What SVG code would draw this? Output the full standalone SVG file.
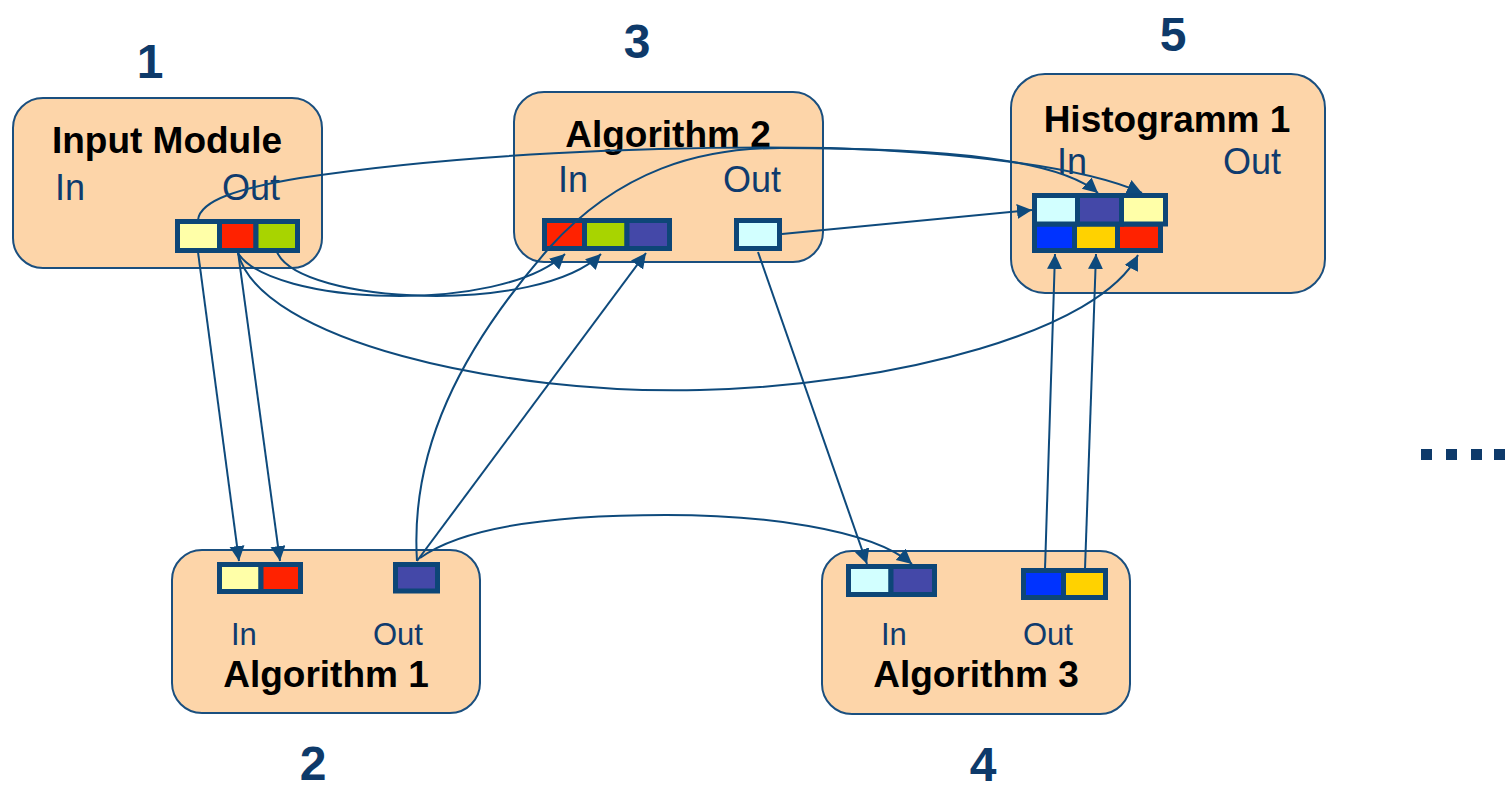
<svg xmlns="http://www.w3.org/2000/svg" width="1511" height="791" viewBox="0 0 1511 791">
  <style>
    .box { fill: #FDD5A9; stroke: #1A4F7F; stroke-width: 2; }
    .title { font-family: "Liberation Sans", Arial, sans-serif; font-weight: bold; font-size: 37px; fill: #000; text-anchor: middle; }
    .io { font-family: "Liberation Sans", Arial, sans-serif; font-size: 36px; fill: #0F3B6E; }
    .io-s { font-family: "Liberation Sans", Arial, sans-serif; font-size: 31px; fill: #0F3B6E; }
    .num { font-family: "Liberation Sans", Arial, sans-serif; font-weight: bold; font-size: 48px; fill: #0E3A6A; text-anchor: middle; }
    .port { stroke: #0D4677; stroke-width: 5; }
    .yel { fill: #FFFFA8; }
    .red { fill: #FF2200; }
    .grn { fill: #A8D400; }
    .pur { fill: #4448A8; }
    .cyn { fill: #D2FFFF; }
    .blu { fill: #0033FF; }
    .gld { fill: #FFD200; }
    .link { fill: none; stroke: #0E4A7C; stroke-width: 2; marker-end: url(#arrow); }
    .dot { fill: #0E3A6A; }
  </style>
  <defs>
    <marker id="arrow" markerUnits="userSpaceOnUse" markerWidth="16" markerHeight="16" refX="15" refY="7.5" orient="auto">
      <path d="M0,0 L15,7.5 L0,15 z" fill="#0E4A7C"/>
    </marker>
  </defs>

  <rect width="1511" height="791" fill="#FFFFFF"/>

  <!-- Node 1: Input Module -->
  <g id="input-module">
    <text class="num" x="150" y="78">1</text>
    <rect class="box" x="13" y="98" width="309" height="170" rx="30"/>
    <text class="title" x="167" y="153">Input Module</text>
    <text class="io" x="55" y="200">In</text>
    <text class="io" x="222" y="200">Out</text>
    <rect class="port yel" x="177.5" y="221.5" width="42" height="29"/>
    <rect class="port red" x="219.5" y="221.5" width="36.5" height="29"/>
    <rect class="port grn" x="256" y="221.5" width="41.5" height="29"/>
  </g>

  <!-- Node 3: Algorithm 2 -->
  <g id="algorithm-2">
    <text class="num" x="637" y="58">3</text>
    <rect class="box" x="514" y="92" width="309" height="170" rx="30"/>
    <text class="title" x="668" y="147">Algorithm 2</text>
    <text class="io" x="558" y="192">In</text>
    <text class="io" x="723" y="192">Out</text>
    <rect class="port red" x="544.5" y="220.5" width="40" height="28"/>
    <rect class="port grn" x="584.5" y="220.5" width="42.5" height="28"/>
    <rect class="port pur" x="627" y="220.5" width="42.5" height="28"/>
    <rect class="port cyn" x="736.5" y="220.5" width="43" height="28"/>
  </g>

  <!-- Node 5: Histogramm 1 -->
  <g id="histogramm-1">
    <text class="num" x="1173" y="51">5</text>
    <rect class="box" x="1011" y="74" width="314" height="219" rx="34"/>
    <text class="title" x="1167" y="132">Histogramm 1</text>
    <text class="io" x="1057" y="174">In</text>
    <text class="io" x="1223" y="174">Out</text>
    <rect class="port blu" x="1034.5" y="224" width="40" height="26.5"/>
    <rect class="port gld" x="1074.5" y="224" width="43" height="26.5"/>
    <rect class="port red" x="1117.5" y="224" width="43" height="26.5"/>
    <rect class="port cyn" x="1034.5" y="195.5" width="43" height="28.5"/>
    <rect class="port pur" x="1077.5" y="195.5" width="44" height="28.5"/>
    <rect class="port yel" x="1121.5" y="195.5" width="44" height="28.5"/>
  </g>

  <!-- Node 2: Algorithm 1 -->
  <g id="algorithm-1">
    <rect class="box" x="172" y="550" width="308" height="163" rx="30"/>
    <rect class="port yel" x="219.5" y="564.5" width="41.5" height="27"/>
    <rect class="port red" x="261" y="564.5" width="39.5" height="27"/>
    <rect class="port pur" x="395.5" y="564.5" width="42" height="26.5"/>
    <text class="io-s" x="231" y="645">In</text>
    <text class="io-s" x="373" y="645">Out</text>
    <text class="title" x="326" y="687">Algorithm 1</text>
    <text class="num" x="313" y="780">2</text>
  </g>

  <!-- Node 4: Algorithm 3 -->
  <g id="algorithm-3">
    <rect class="box" x="822" y="551" width="308" height="163" rx="30"/>
    <rect class="port cyn" x="848.5" y="566.5" width="42.5" height="28"/>
    <rect class="port pur" x="891" y="566.5" width="43.5" height="28"/>
    <rect class="port blu" x="1023.5" y="570.5" width="40" height="27"/>
    <rect class="port gld" x="1063.5" y="570.5" width="42" height="27"/>
    <text class="io-s" x="881" y="645">In</text>
    <text class="io-s" x="1023" y="645">Out</text>
    <text class="title" x="976" y="687">Algorithm 3</text>
    <text class="num" x="983" y="781">4</text>
  </g>

  <!-- continuation marks -->
  <g id="more">
    <rect class="dot" x="1421" y="449" width="11" height="11"/>
    <rect class="dot" x="1446" y="449" width="11" height="11"/>
    <rect class="dot" x="1471" y="449" width="11" height="11"/>
    <rect class="dot" x="1494" y="449" width="11" height="11"/>
  </g>

  <!-- Connectors -->
  <g id="connectors">
    <!-- Input Module -> Algorithm 1 -->
    <path class="link" d="M198,252 L239,561"/>
    <path class="link" d="M238,252 L280,561"/>
    <!-- Input Module -> Algorithm 2 -->
    <path class="link" d="M238,253 C270,305 500,315 565,254"/>
    <path class="link" d="M277,252 C300,305 540,315 601,254"/>
    <!-- Input Module -> Histogramm 1 -->
    <path class="link" d="M198,220 C200,200 240,188 300,178 C450,155 650,145 830,148 C950,152 1080,165 1142,193"/>
    <path class="link" d="M238,253 C260,340 500,395 700,390 C900,385 1100,330 1138,255"/>
    <!-- Algorithm 1 -> Algorithm 2 / Histogramm 1 / Algorithm 3 -->
    <path class="link" d="M417,561 L646,253"/>
    <path class="link" d="M417,561 C410,450 460,350 550,247 C620,170 700,148 780,148 C950,148 1060,160 1098,193"/>
    <path class="link" d="M420,558 C470,522 580,515 666,515 C760,515 870,528 912,564"/>
    <!-- Algorithm 2 -> Algorithm 3 / Histogramm 1 -->
    <path class="link" d="M758,252 L867,564"/>
    <path class="link" d="M782,234 L1032,210"/>
    <!-- Algorithm 3 -> Histogramm 1 -->
    <path class="link" d="M1045,569 L1055,254"/>
    <path class="link" d="M1085,569 L1096,254"/>
  </g>
</svg>
